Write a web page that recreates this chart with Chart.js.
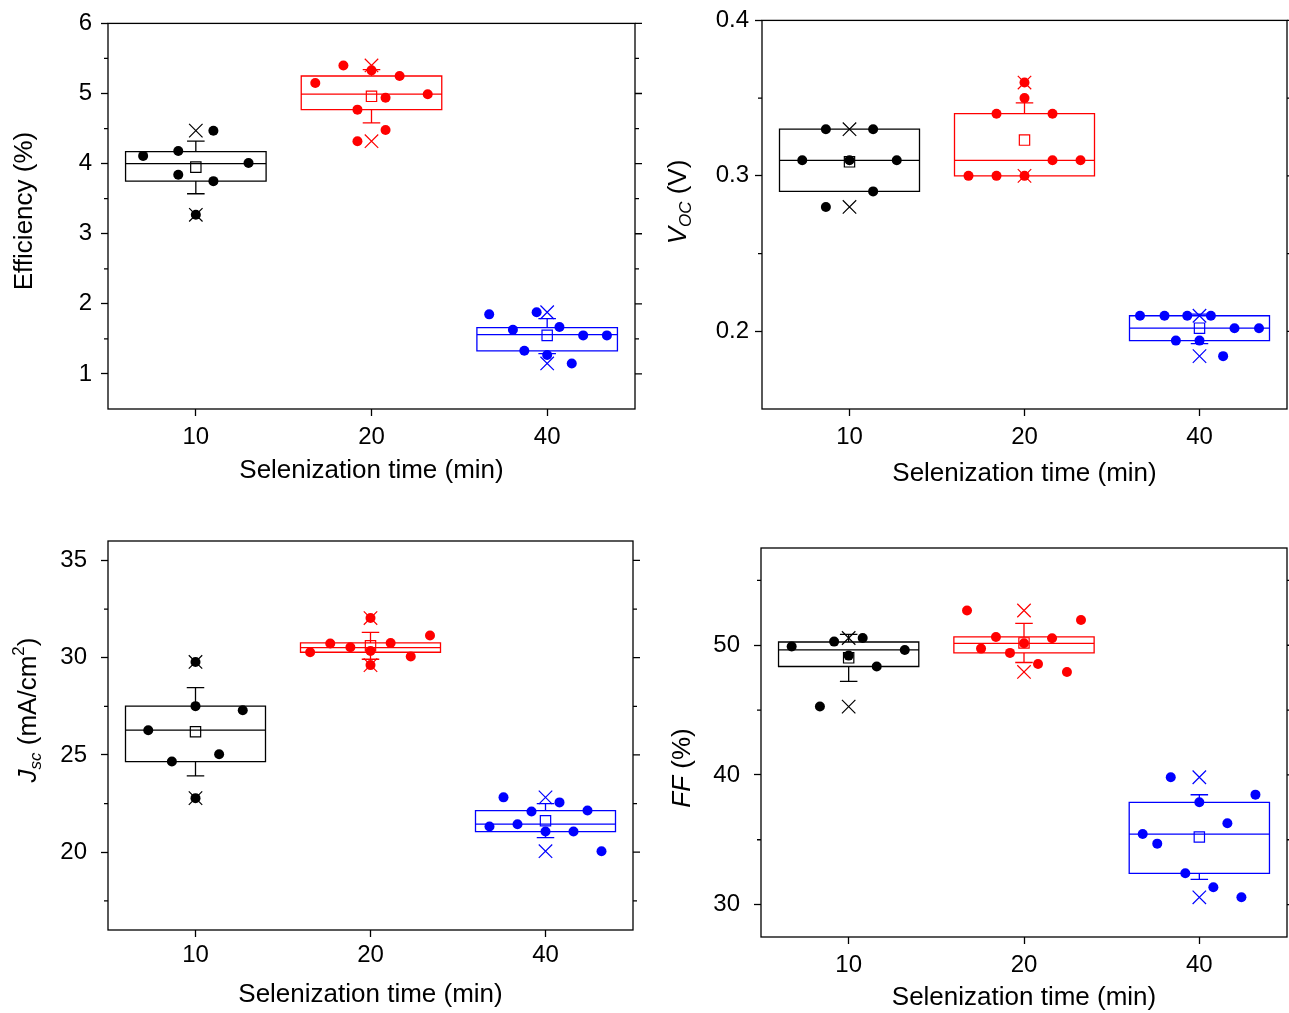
<!DOCTYPE html>
<html>
<head>
<meta charset="utf-8">
<script src="https://cdn.jsdelivr.net/npm/chart.js@4.4.1/dist/chart.umd.min.js"></script>
<style>
  body { margin: 0; background: #fff; }
  #wrap { position: relative; width: 1289px; height: 1013px; overflow: hidden; background: #fff; }
  canvas { position: absolute; }
</style>
</head>
<body>
<div id="wrap">
  <canvas id="effChart" width="655" height="505" style="left:0;top:0"></canvas>
  <canvas id="vocChart" width="662" height="505" style="left:645px;top:0"></canvas>
  <canvas id="jscChart" width="655" height="508" style="left:0;top:505px"></canvas>
  <canvas id="ffChart" width="662" height="508" style="left:645px;top:505px"></canvas>
</div>
<script>
const times = ['10', '20', '40'];
const groupColors = ['#000000', '#ff0000', '#0000ff'];
const FONT = "'Liberation Sans', Arial, Helvetica, sans-serif";

// ---- Efficiency (%) ----
const effPoints = [
  [4.11, 4.18, 4.01, 3.84, 3.75, 4.47, 3.27],
  [5.15, 5.40, 5.33, 5.25, 4.99, 4.94, 4.77, 4.48, 4.32],
  [1.85, 1.88, 1.63, 1.67, 1.55, 1.55, 1.33, 1.27, 1.15]
];
const effJitter = [
  [-0.30, -0.10, 0.30, -0.10, 0.10, 0.10, 0],
  [-0.32, -0.16, 0, 0.16, 0.32, 0.08, -0.08, 0.08, -0.08],
  [-0.33, -0.06, -0.195, 0.07, 0.205, 0.34, -0.13, 0, 0.14]
];
const effQ1 = [3.75, 4.77, 1.33];
const effMedian = [4.00, 4.99, 1.56];
const effQ3 = [4.17, 5.25, 1.66];
const effMean = [3.95, 4.96, 1.55];
const effSdLow = [3.57, 4.58, 1.29];
const effSdHigh = [4.32, 5.34, 1.79];
const effMin = [3.27, 4.32, 1.15];
const effMax = [4.47, 5.40, 1.88];
const effTicks = [1, 2, 3, 4, 5, 6];
const effMinor = [1.5, 2.5, 3.5, 4.5, 5.5];

// ---- Voc (V) ----
const vocPoints = [
  [0.33, 0.33, 0.31, 0.31, 0.31, 0.29, 0.28],
  [0.30, 0.30, 0.30, 0.34, 0.34, 0.31, 0.31, 0.35, 0.36],
  [0.21, 0.21, 0.21, 0.21, 0.202, 0.202, 0.194, 0.194, 0.184]
];
const vocJitter = [
  [-0.135, 0.135, -0.27, 0, 0.27, 0.135, -0.135],
  [-0.32, -0.16, 0, -0.16, 0.16, 0.16, 0.32, 0, 0],
  [-0.34, -0.20, -0.07, 0.065, 0.20, 0.34, -0.135, 0, 0.135]
];
const vocQ1 = [0.29, 0.30, 0.194];
const vocMedian = [0.31, 0.31, 0.202];
const vocQ3 = [0.33, 0.34, 0.21];
const vocMean = [0.309, 0.323, 0.202];
const vocSdLow = [0.290, 0.300, 0.192];
const vocSdHigh = [0.327, 0.347, 0.211];
const vocMin = [0.28, 0.30, 0.184];
const vocMax = [0.33, 0.36, 0.21];
const vocTicks = [0.2, 0.3, 0.4];
const vocMinor = [0.25, 0.35];

// ---- Jsc (mA/cm2) ----
const jscPoints = [
  [26.27, 24.66, 27.51, 25.04, 27.30, 29.78, 22.78],
  [30.28, 30.73, 30.54, 30.35, 30.76, 30.06, 31.14, 32.04, 29.62],
  [21.32, 22.82, 21.44, 22.09, 21.06, 22.56, 21.06, 22.14, 20.05]
];
const jscJitter = [
  [-0.27, -0.135, 0, 0.135, 0.27, 0, 0],
  [-0.345, -0.23, -0.115, 0, 0.115, 0.23, 0.34, 0, 0],
  [-0.32, -0.24, -0.16, -0.08, 0, 0.08, 0.16, 0.24, 0.32]
];
const jscQ1 = [24.66, 30.28, 21.06];
const jscMedian = [26.28, 30.52, 21.44];
const jscQ3 = [27.51, 30.76, 22.14];
const jscMean = [26.19, 30.61, 21.62];
const jscSdLow = [23.92, 29.92, 20.75];
const jscSdHigh = [28.46, 31.30, 22.50];
const jscMin = [22.78, 29.62, 20.05];
const jscMax = [29.78, 32.04, 22.82];
const jscTicks = [20, 25, 30, 35];
const jscMinor = [17.5, 22.5, 27.5, 32.5];

// ---- FF (%) ----
const ffPoints = [
  [49.90, 50.28, 50.56, 49.20, 49.64, 48.36, 45.27],
  [52.68, 50.64, 49.74, 49.41, 50.15, 50.54, 51.95, 48.56, 47.94],
  [39.82, 38.48, 37.89, 36.27, 35.44, 34.70, 32.41, 31.33, 30.56]
];
const ffJitter = [
  [-0.325, -0.083, 0.08, 0, 0.32, 0.16, -0.164],
  [-0.325, -0.16, -0.245, -0.08, 0, 0.16, 0.325, 0.08, 0.245],
  [-0.163, 0.32, 0, 0.16, -0.323, -0.24, -0.08, 0.08, 0.24]
];
const ffQ1 = [48.36, 49.41, 32.41];
const ffMedian = [49.64, 50.15, 35.44];
const ffQ3 = [50.25, 50.64, 37.89];
const ffMean = [49.03, 50.18, 35.21];
const ffSdLow = [47.22, 48.67, 31.95];
const ffSdHigh = [50.84, 51.69, 38.47];
const ffMin = [45.27, 47.94, 30.56];
const ffMax = [50.56, 52.68, 39.82];
const ffTicks = [30, 40, 50];
const ffMinor = [35, 45, 55];

// draws a rotated axis title made of styled pieces (italic, sub/superscript)
function drawVerticalTitle(ctx, parts, cx, cy) {
  ctx.save();
  ctx.translate(cx, cy);
  ctx.rotate(-Math.PI / 2);
  ctx.textBaseline = 'middle';
  ctx.fillStyle = '#000';
  let total = 0;
  parts.forEach(p => { ctx.font = p.font; p.w = ctx.measureText(p.text).width; total += p.w; });
  let pos = -total / 2;
  parts.forEach(p => { ctx.font = p.font; ctx.fillText(p.text, pos, p.dy || 0); pos += p.w; });
  ctx.restore();
}

function boxPlugin(d) {
  return {
    id: 'boxplot',
    beforeDatasetsDraw(chart) {
      const { ctx, scales: { x, y } } = chart;
      ctx.save();
      ctx.lineWidth = 1.3;
      times.forEach((t, i) => {
        const xc = x.getPixelForValue(i);
        const xl = x.getPixelForValue(i - 0.4);
        const xr = x.getPixelForValue(i + 0.4);
        const cap = x.getPixelForValue(i + 0.05) - xc;
        const y1 = y.getPixelForValue(d.q1[i]);
        const y3 = y.getPixelForValue(d.q3[i]);
        const ym = y.getPixelForValue(d.median[i]);
        const yl = y.getPixelForValue(d.sdLow[i]);
        const yh = y.getPixelForValue(d.sdHigh[i]);
        ctx.strokeStyle = groupColors[i];
        ctx.beginPath();
        ctx.rect(xl, y3, xr - xl, y1 - y3);
        ctx.moveTo(xl, ym); ctx.lineTo(xr, ym);
        if (yh < y3 - 0.5) {
          ctx.moveTo(xc, y3); ctx.lineTo(xc, yh);
          ctx.moveTo(xc - cap, yh); ctx.lineTo(xc + cap, yh);
        }
        if (yl > y1 + 0.5) {
          ctx.moveTo(xc, y1); ctx.lineTo(xc, yl);
          ctx.moveTo(xc - cap, yl); ctx.lineTo(xc + cap, yl);
        }
        ctx.stroke();
      });
      ctx.restore();
    },
    afterDraw(chart) {
      const { ctx, chartArea: a, scales: { y } } = chart;
      ctx.save();
      ctx.strokeStyle = '#000';
      ctx.lineWidth = 1.3;
      ctx.strokeRect(a.left, a.top, a.right - a.left, a.bottom - a.top);
      ctx.beginPath();
      d.minor.forEach(v => {
        const py = y.getPixelForValue(v);
        ctx.moveTo(a.left - 4, py); ctx.lineTo(a.left, py);
        ctx.moveTo(a.right, py); ctx.lineTo(a.right + 4, py);
      });
      d.ticks.forEach(v => {
        const py = y.getPixelForValue(v);
        ctx.moveTo(a.right, py); ctx.lineTo(a.right + 7, py);
      });
      ctx.stroke();
      ctx.restore();
      drawVerticalTitle(ctx, d.yTitle, d.yTitlePos[0], d.yTitlePos[1]);
    }
  };
}

function buildChart(id, d) {
  const datasets = [];
  times.forEach((t, i) => {
    const c = groupColors[i];
    datasets.push({
      label: t + ' min min/max', order: 0,
      data: [{ x: i, y: d.min[i] }, { x: i, y: d.max[i] }],
      pointStyle: 'crossRot', pointRadius: 9.5, pointBorderWidth: 1.2,
      pointBorderColor: c, pointBackgroundColor: 'rgba(0,0,0,0)'
    });
    datasets.push({
      label: t + ' min mean', order: 1,
      data: [{ x: i, y: d.mean[i] }],
      pointStyle: 'rect', pointRadius: 7.3, pointBorderWidth: 1.2,
      pointBorderColor: c, pointBackgroundColor: 'rgba(0,0,0,0)'
    });
    datasets.push({
      label: t + ' min cells', order: 2,
      data: d.points[i].map((v, k) => ({ x: i + d.jitter[i][k], y: v })),
      pointStyle: 'circle', pointRadius: 5, pointBorderWidth: 0,
      pointBorderColor: c, pointBackgroundColor: c
    });
  });

  const canvas = document.getElementById(id);
  const a = d.area;
  const xAxisHeight = d.xTitleY - a.bottom + 13;
  const tickGrid = { display: true, drawOnChartArea: false, drawTicks: true, tickLength: 7, tickWidth: 1.3, tickColor: '#000' };

  return new Chart(canvas.getContext('2d'), {
    type: 'scatter',
    data: { datasets },
    options: {
      responsive: false,
      animation: false,
      events: [],
      layout: {
        padding: { left: 0, top: a.top, right: canvas.width - a.right, bottom: Math.max(0, canvas.height - a.bottom - xAxisHeight) }
      },
      plugins: { legend: { display: false }, tooltip: { enabled: false } },
      scales: {
        x: {
          type: 'linear', min: -0.5, max: 2.5,
          afterBuildTicks: s => { s.ticks = times.map((t, i) => ({ value: i })); },
          afterFit: s => { s.height = xAxisHeight; },
          ticks: { color: '#000', font: { family: FONT, size: 24 }, padding: d.xTickPad, maxRotation: 0, autoSkip: false,
                   callback: v => times[v] },
          grid: tickGrid,
          border: { display: false },
          title: { display: true, text: 'Selenization time (min)', color: '#000', padding: 0,
                   font: { family: FONT, size: 26, lineHeight: 1 } }
        },
        y: {
          type: 'linear', min: d.yMin, max: d.yMax,
          afterBuildTicks: s => { s.ticks = d.ticks.map(v => ({ value: v })); },
          afterFit: s => { s.width = a.left; },
          ticks: { color: '#000', font: { family: FONT, size: 24 }, padding: d.yTickPad, callback: v => String(v) },
          grid: tickGrid,
          border: { display: false }
        }
      }
    },
    plugins: [boxPlugin(d)]
  });
}

const big = '26px ' + FONT;
const bigItalic = 'italic 26px ' + FONT;
const small = '17px ' + FONT;
const smallItalic = 'italic 17px ' + FONT;

buildChart('effChart', {
  points: effPoints, jitter: effJitter, q1: effQ1, median: effMedian, q3: effQ3, mean: effMean,
  sdLow: effSdLow, sdHigh: effSdHigh, min: effMin, max: effMax, ticks: effTicks, minor: effMinor,
  yMin: 0.5, yMax: 6,
  area: { left: 108, top: 20, right: 635, bottom: 409 }, xTitleY: 471, xTickPad: 6.6, yTickPad: 9,
  yTitle: [{ text: 'Efficiency (%)', font: big }], yTitlePos: [25, 211]
});

buildChart('vocChart', {
  points: vocPoints, jitter: vocJitter, q1: vocQ1, median: vocMedian, q3: vocQ3, mean: vocMean,
  sdLow: vocSdLow, sdHigh: vocSdHigh, min: vocMin, max: vocMax, ticks: vocTicks, minor: vocMinor,
  yMin: 0.15, yMax: 0.4,
  area: { left: 117, top: 20, right: 642, bottom: 409 }, xTitleY: 474, xTickPad: 6.6, yTickPad: 6,
  yTitle: [{ text: 'V', font: bigItalic }, { text: 'OC', font: smallItalic, dy: 7 }, { text: ' (V)', font: big }],
  yTitlePos: [34, 202]
});

buildChart('jscChart', {
  points: jscPoints, jitter: jscJitter, q1: jscQ1, median: jscMedian, q3: jscQ3, mean: jscMean,
  sdLow: jscSdLow, sdHigh: jscSdHigh, min: jscMin, max: jscMax, ticks: jscTicks, minor: jscMinor,
  yMin: 16, yMax: 36,
  area: { left: 108, top: 36, right: 633, bottom: 425 }, xTitleY: 490, xTickPad: 3.6, yTickPad: 14,
  yTitle: [{ text: 'J', font: bigItalic }, { text: 'sc', font: smallItalic, dy: 7 }, { text: ' (mA/cm', font: big },
           { text: '2', font: small, dy: -10 }, { text: ')', font: big }],
  yTitlePos: [29, 205]
});

buildChart('ffChart', {
  points: ffPoints, jitter: ffJitter, q1: ffQ1, median: ffMedian, q3: ffQ3, mean: ffMean,
  sdLow: ffSdLow, sdHigh: ffSdHigh, min: ffMin, max: ffMax, ticks: ffTicks, minor: ffMinor,
  yMin: 27.5, yMax: 57.5,
  area: { left: 116, top: 43, right: 642, bottom: 432 }, xTitleY: 493, xTickPad: 6.6, yTickPad: 14,
  yTitle: [{ text: 'FF', font: bigItalic }, { text: ' (%)', font: big }], yTitlePos: [38, 263]
});
</script>
</body>
</html>
